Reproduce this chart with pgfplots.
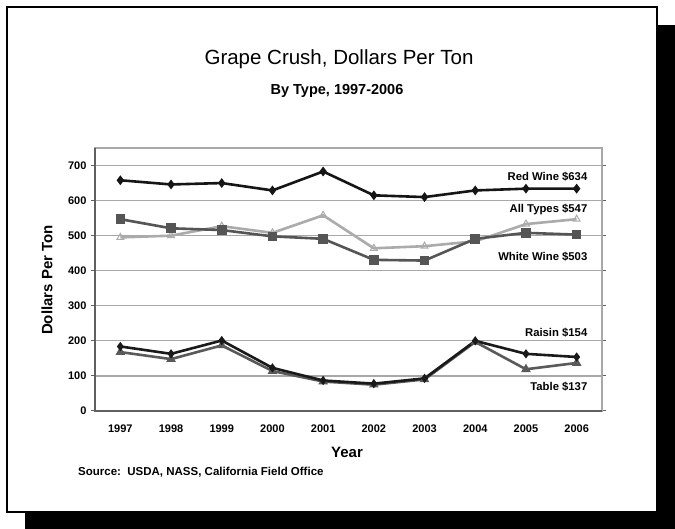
\documentclass[border=0pt]{standalone}
\usepackage{pgfplots}
\pgfplotsset{compat=1.18}
\usepackage{fontspec}
\setmainfont{Liberation Sans}
\definecolor{redw}{HTML}{151515}
\definecolor{whitew}{HTML}{555555}
\definecolor{allt}{HTML}{ABABAB}
\definecolor{raisin}{HTML}{1A1A1A}
\definecolor{tablec}{HTML}{5A5A5A}
\definecolor{gridc}{HTML}{A8A8A8}
\definecolor{axisc}{HTML}{606060}
\begin{document}
\begin{tikzpicture}[x=1pt,y=1pt]
\useasboundingbox (0,0) rectangle (675,529);
\fill[white] (0,0) rectangle (675,529);
\fill[black] (25,0) rectangle (675,504);
\filldraw[fill=white, draw=black, line width=2.4pt] (7,17) rectangle (657,522);
\node[anchor=base, font=\fontsize{20.5}{20.5}\selectfont] at (339,464) {Grape Crush, Dollars Per Ton};
\node[anchor=base, font=\bfseries\fontsize{14.5}{14.5}\selectfont] at (337,434) {By Type, 1997-2006};
\node[rotate=90, font=\bfseries\fontsize{15}{15}\selectfont] at (47,249) {Dollars Per Ton};
\node[font=\bfseries\fontsize{15}{15}\selectfont] at (347,77) {Year};
\node[anchor=west, inner sep=0pt, font=\bfseries\fontsize{11.5}{11.5}\selectfont] at (78,57) {Source:\ \ USDA, NASS, California Field Office};
\begin{axis}[
  at={(95pt,118pt)}, anchor=south west,
  scale only axis, width=507pt, height=263pt,
  xmin=1996.5, xmax=2006.5, ymin=0, ymax=750,
  xtick={1997,1998,...,2006}, ytick={0,100,...,700},
  /pgf/number format/assume math mode=true,
  /pgf/number format/1000 sep={},
  ticklabel style={font=\bfseries\fontsize{11}{11}\selectfont},
  xtick style={draw=none},
  ytick style={draw=axisc, line width=1pt},
  tick align=outside, major tick length=4pt,
  ymajorgrids, grid style={draw=gridc, line width=1.2pt},
  axis line style={draw=gridc, line width=1.2pt},
  xticklabel style={yshift=-6pt},
  yticklabel style={xshift=-1pt},
  clip=false,
]
\draw[axisc, line width=1.8pt] (rel axis cs:0,1) -- (rel axis cs:0,0) -- (rel axis cs:1,0);
\addplot[redw, line width=2.6pt, mark=diamond*, mark size=2.8pt] coordinates {
(1997,658) (1998,646) (1999,650) (2000,629) (2001,683) (2002,615) (2003,610) (2004,629) (2005,634) (2006,634)};
\addplot[allt, line width=2.6pt, mark=triangle, mark size=4pt, mark options={fill=white, line width=1pt}] coordinates {
(1997,495) (1998,500) (1999,527) (2000,508) (2001,558) (2002,464) (2003,470) (2004,484) (2005,533) (2006,547)};
\addplot[whitew, line width=2.6pt, mark=square*, mark size=3.5pt] coordinates {
(1997,547) (1998,521) (1999,516) (2000,498) (2001,491) (2002,431) (2003,429) (2004,491) (2005,508) (2006,503)};
\addplot[tablec, line width=2.6pt, mark=triangle*, mark size=3pt] coordinates {
(1997,168) (1998,148) (1999,187) (2000,114) (2001,84) (2002,75) (2003,90) (2004,197) (2005,119) (2006,137)};
\addplot[raisin, line width=2.6pt, mark=diamond*, mark size=2.5pt] coordinates {
(1997,184) (1998,163) (1999,201) (2000,123) (2001,87) (2002,78) (2003,93) (2004,200) (2005,163) (2006,154)};
\node[anchor=east, font=\bfseries\fontsize{11.3}{11.3}\selectfont] at (axis cs:2006.28,669) {Red Wine \$634};
\node[anchor=east, font=\bfseries\fontsize{11.3}{11.3}\selectfont] at (axis cs:2006.28,576) {All Types \$547};
\node[anchor=east, font=\bfseries\fontsize{11.3}{11.3}\selectfont] at (axis cs:2006.28,441) {White Wine \$503};
\node[anchor=east, font=\bfseries\fontsize{11.3}{11.3}\selectfont] at (axis cs:2006.28,222) {Raisin \$154};
\node[anchor=east, font=\bfseries\fontsize{11.3}{11.3}\selectfont] at (axis cs:2006.28,69) {Table \$137};
\end{axis}
\end{tikzpicture}
\end{document}
